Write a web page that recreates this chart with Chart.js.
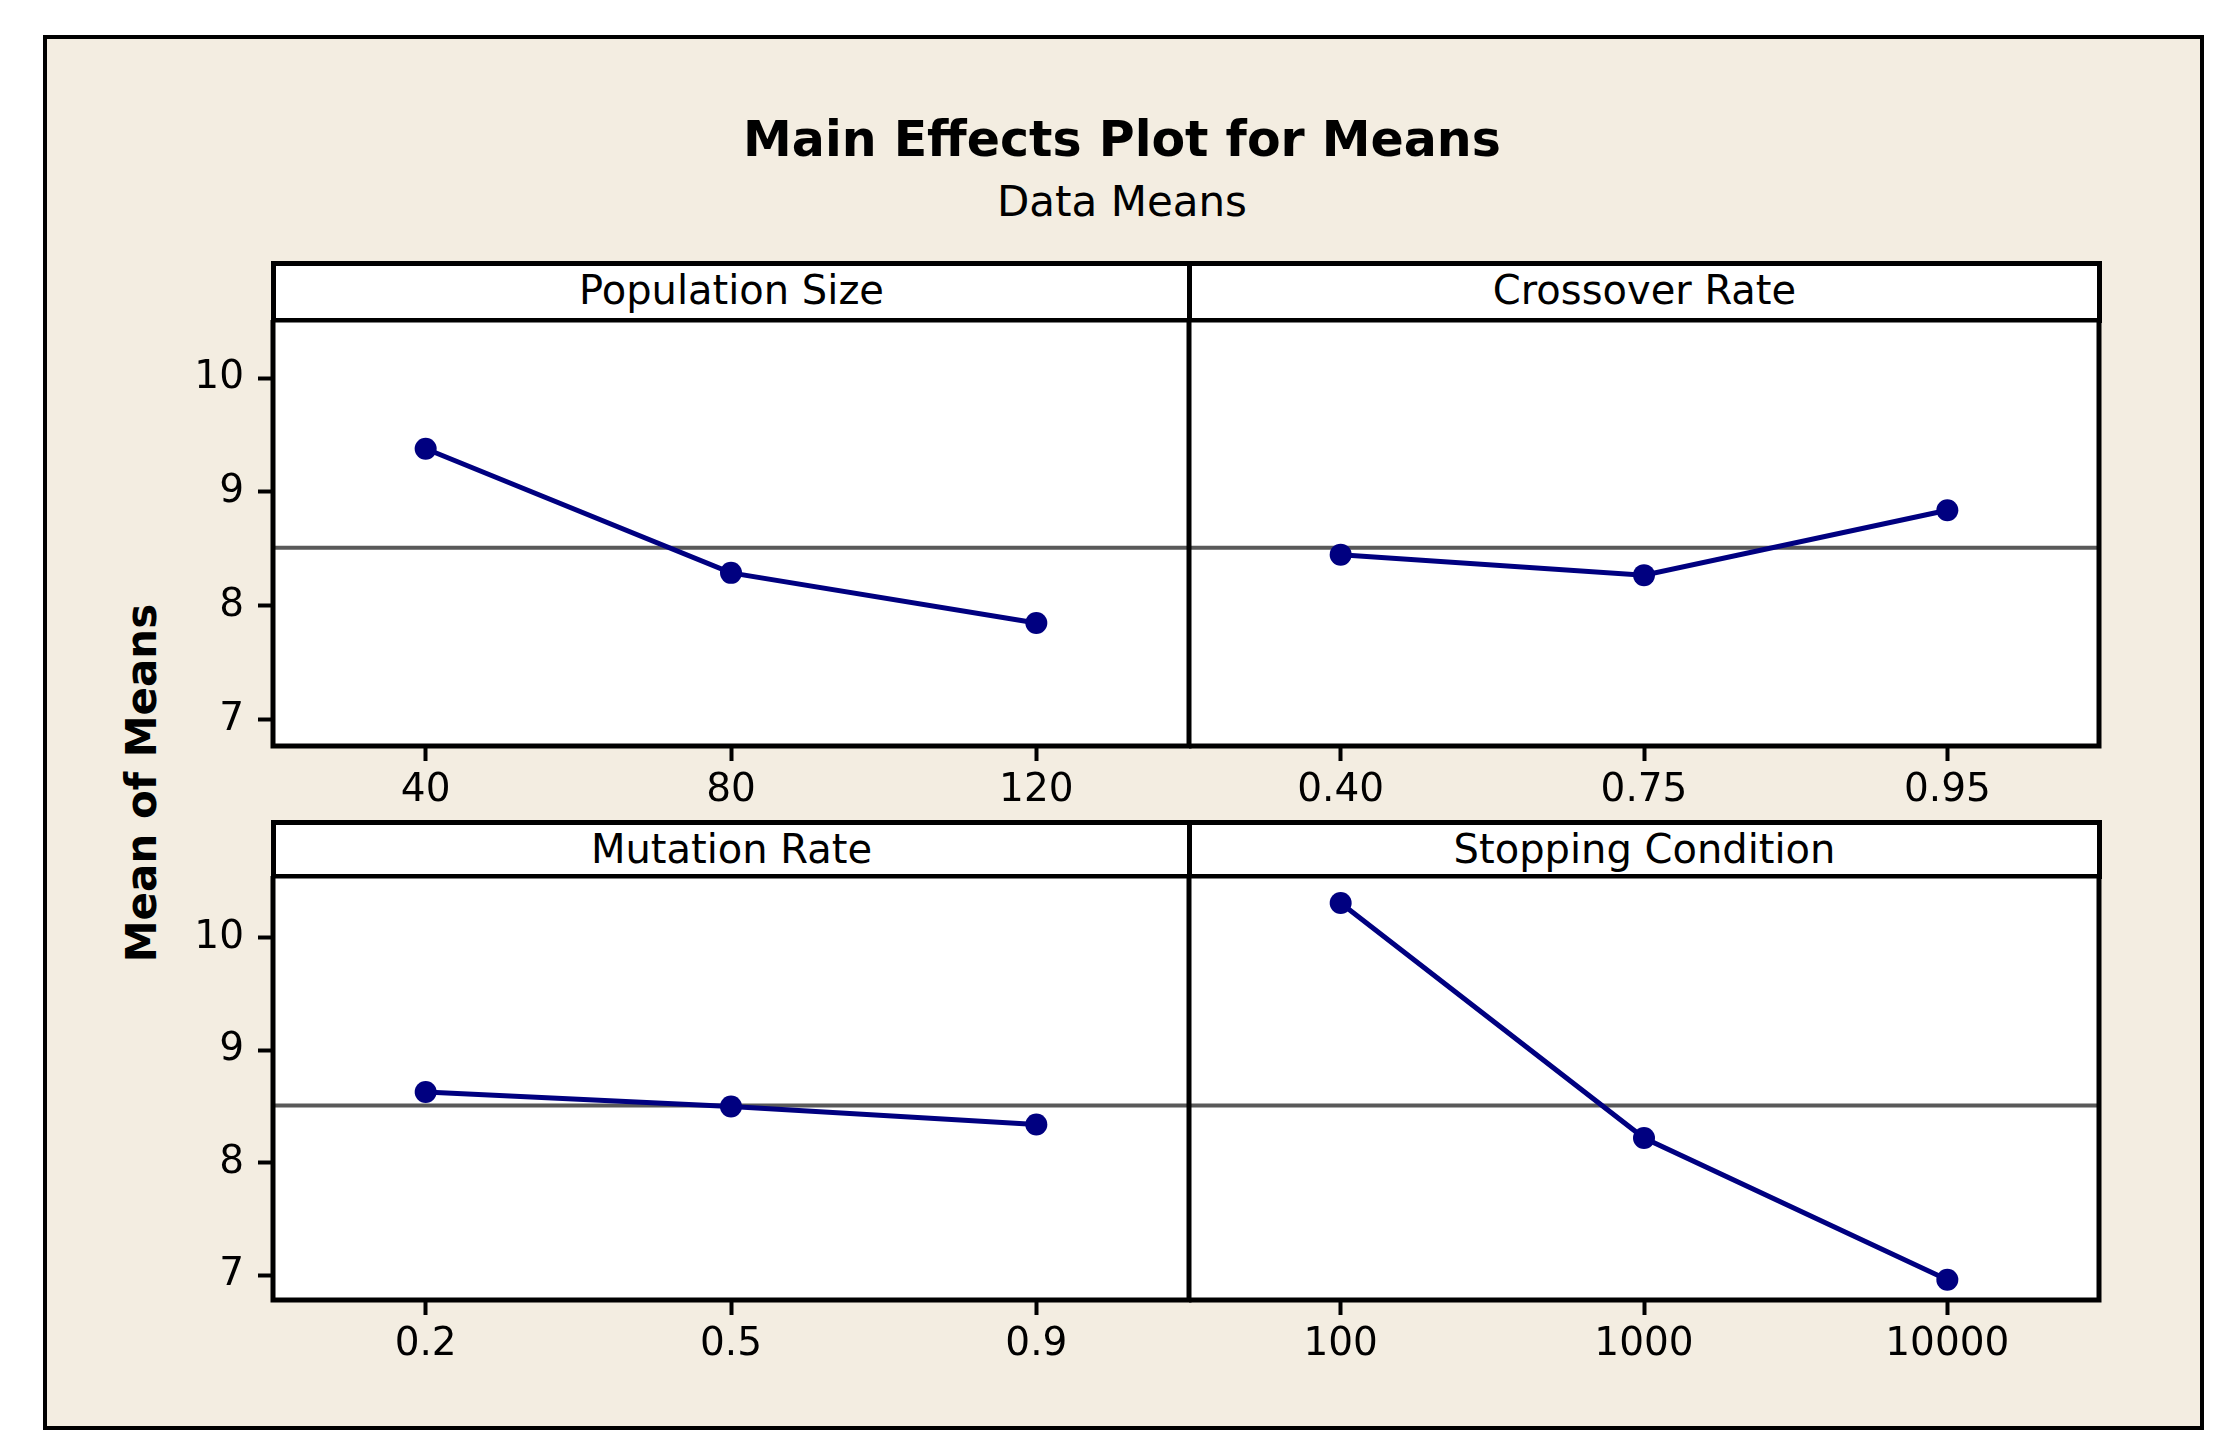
<!DOCTYPE html>
<html>
<head>
<meta charset="utf-8">
<script src="https://cdn.jsdelivr.net/npm/chart.js@4.4.1/dist/chart.umd.min.js"></script>
<style>
body { margin: 0; background: #fff; width: 2239px; height: 1451px; position: relative; overflow: hidden; font-family: "DejaVu Sans", sans-serif; }
#frame { position: absolute; left: 43px; top: 35px; width: 2161px; height: 1395px; box-sizing: border-box; border: 4px solid #000; background: #f3ede1; }
.txt { position: absolute; white-space: nowrap; color: #000; text-align: center; }
#title { left: 0; width: 2244px; top: 115px; font-size: 49px; line-height: 49px; font-weight: bold; }
#subtitle { left: 0; width: 2244px; top: 181px; font-size: 42px; line-height: 42px; }
#ylab { left: 142px; top: 783px; font-size: 42px; line-height: 42px; font-weight: bold; transform: translate(-50%, -50%) rotate(-90deg); }
.head { position: absolute; box-sizing: border-box; border: 5px solid #000; background: #fff; font-size: 40px; line-height: 40px; text-align: center; padding-top: 4px; white-space: nowrap; }
canvas { position: absolute; }
</style>
</head>
<body>
<div id="frame"></div>
<div class="txt" id="title">Main Effects Plot for Means</div>
<div class="txt" id="subtitle">Data Means</div>
<div class="txt" id="ylab">Mean of Means</div>
<script>
const factorNames = ['Population Size', 'Crossover Rate', 'Mutation Rate', 'Stopping Condition'];

const popLevels = ['40', '80', '120'];
const popMeans = [9.38, 8.29, 7.85];

const crossLevels = ['0.40', '0.75', '0.95'];
const crossMeans = [8.45, 8.27, 8.84];

const mutLevels = ['0.2', '0.5', '0.9'];
const mutMeans = [8.63, 8.50, 8.34];

const stopLevels = ['100', '1000', '10000'];
const stopMeans = [10.31, 8.22, 6.96];

const grandMean = 8.51;
const yTicks = [7, 8, 9, 10];

const levels = [popLevels, crossLevels, mutLevels, stopLevels];
const means = [popMeans, crossMeans, mutMeans, stopMeans];

// panel geometry (page pixels)
const cols = [273, 1189, 2099];
const rows = [
    { head: 263, top: 320, bottom: 746, min: 6.77, max: 10.51 },
    { head: 822, top: 876, bottom: 1300, min: 6.78, max: 10.55 }
];
const axisH = 80;
const axisW = 120;

const panelPlugin = {
    id: 'panel',
    beforeDraw(chart) {
        const a = chart.chartArea;
        const ctx = chart.ctx;
        ctx.save();
        ctx.fillStyle = '#fff';
        ctx.fillRect(a.left, a.top, a.right - a.left, a.bottom - a.top);
        ctx.restore();
    },
    beforeDatasetsDraw(chart, args, opts) {
        const a = chart.chartArea;
        const ctx = chart.ctx;
        const y = chart.scales.y.getPixelForValue(opts.mean);
        ctx.save();
        ctx.strokeStyle = '#595959';
        ctx.lineWidth = 4;
        ctx.beginPath();
        ctx.moveTo(a.left, y);
        ctx.lineTo(a.right, y);
        ctx.stroke();
        ctx.restore();
    },
    afterDraw(chart) {
        const a = chart.chartArea;
        const ctx = chart.ctx;
        ctx.save();
        ctx.strokeStyle = '#000';
        ctx.lineWidth = 5;
        ctx.strokeRect(a.left, a.top, a.right - a.left, a.bottom - a.top);
        ctx.restore();
    }
};

const tickFont = { family: 'DejaVu Sans', size: 39 };

for (let i = 0; i < 4; i++) {
    const r = rows[Math.floor(i / 2)];
    const c = i % 2;
    const x0 = cols[c], x1 = cols[c + 1];
    const aw = c === 0 ? axisW : 0;

    const head = document.createElement('div');
    head.className = 'head';
    head.style.left = (x0 - 2) + 'px';
    head.style.top = (r.head - 2) + 'px';
    head.style.width = (x1 - x0 + 5) + 'px';
    head.style.height = (r.top - r.head + 5) + 'px';
    head.textContent = factorNames[i];
    document.body.appendChild(head);

    const cv = document.createElement('canvas');
    const w = x1 - x0 + aw + 3, h = r.bottom - r.top + axisH;
    cv.width = w;
    cv.height = h;
    cv.style.width = w + 'px';
    cv.style.height = h + 'px';
    cv.style.left = (x0 - aw) + 'px';
    cv.style.top = r.top + 'px';
    document.body.appendChild(cv);

    new Chart(cv, {
        type: 'line',
        data: {
            labels: levels[i],
            datasets: [{
                data: means[i],
                borderColor: '#000080',
                backgroundColor: '#000080',
                borderWidth: 5,
                pointRadius: 11,
                pointHoverRadius: 11,
                pointBorderWidth: 0,
                tension: 0,
                clip: false
            }]
        },
        options: {
            responsive: false,
            animation: false,
            devicePixelRatio: 1,
            layout: { padding: { left: 0, top: 0, bottom: 0, right: 3 }, autoPadding: false },
            plugins: {
                legend: { display: false },
                tooltip: { enabled: false },
                panel: { mean: grandMean }
            },
            scales: {
                x: {
                    type: 'category',
                    offset: true,
                    border: { display: false },
                    grid: { drawOnChartArea: false, drawTicks: true, tickLength: 15, tickWidth: 4, tickColor: '#000' },
                    ticks: { color: '#000', font: tickFont, padding: 6, maxRotation: 0, autoSkip: false },
                    afterFit: s => { s.height = axisH; s.paddingLeft = 0; s.paddingRight = 0; }
                },
                y: {
                    display: c === 0,
                    min: r.min,
                    max: r.max,
                    border: { display: false },
                    afterBuildTicks: s => { s.ticks = yTicks.map(v => ({ value: v })); },
                    grid: { drawOnChartArea: false, drawTicks: true, tickLength: 15, tickWidth: 4, tickColor: '#000' },
                    ticks: { color: '#000', font: tickFont, padding: 14 },
                    afterFit: s => { s.width = aw; s.paddingTop = 0; s.paddingBottom = 0; }
                }
            }
        },
        plugins: [panelPlugin]
    });
}
</script>
</body>
</html>
